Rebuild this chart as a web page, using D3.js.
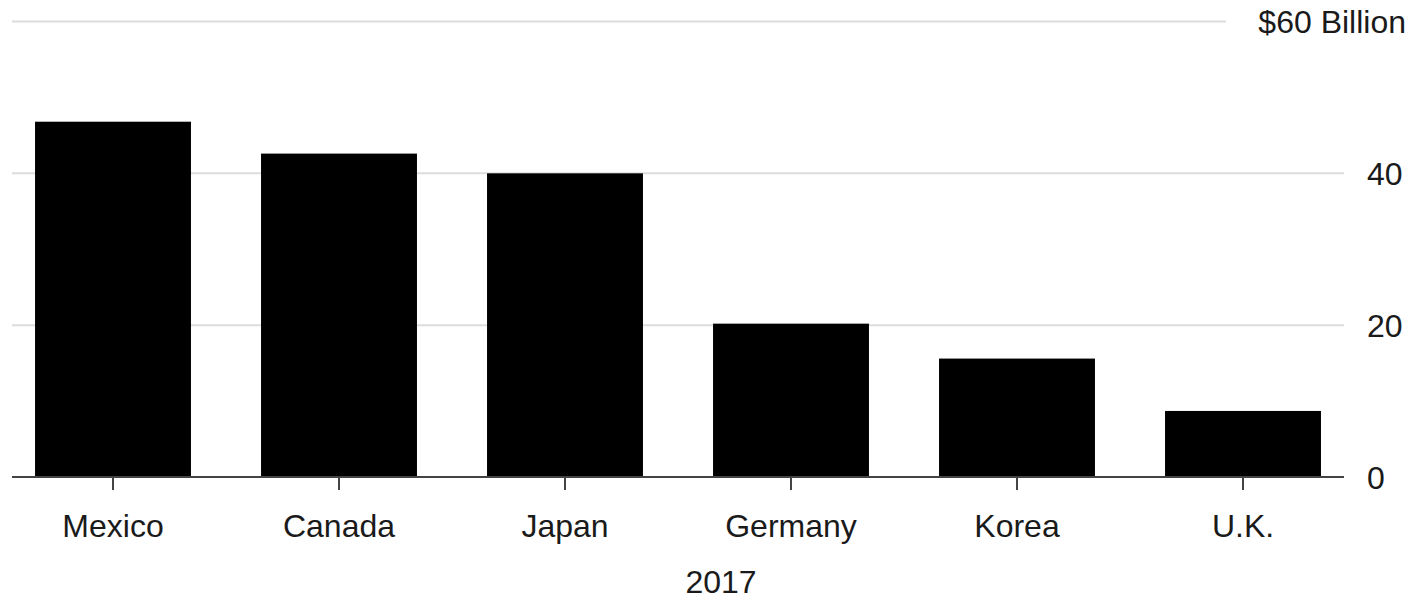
<!DOCTYPE html>
<html>
<head>
<meta charset="utf-8">
<script src="https://cdn.jsdelivr.net/npm/d3@7"></script>
<style>
  html, body { margin: 0; padding: 0; background: #fff; }
  svg text { font-family: "Liberation Sans", Arial, Helvetica, sans-serif; fill: #1a1a1a; }
</style>
</head>
<body>
<svg id="chart" width="1416" height="601"></svg>
<script>
// Trade deficit by country, 2017 (billions of dollars)
const categories = ["Mexico", "Canada", "Japan", "Germany", "Korea", "U.K."];
const values = [46.8, 42.6, 40.0, 20.2, 15.6, 8.7];
const yTicks = [0, 20, 40, 60];
const yearLabel = "2017";
const unitLabel = "$60 Billion";

const svg = d3.select("#chart");

const plotLeft = 12, plotRight = 1344;
const yTop = 21.5, yBase = 477;

const x = d3.scaleBand()
  .domain(categories)
  .range([0, 1356])
  .paddingInner(0.31)
  .paddingOuter(0.155);

const y = d3.scaleLinear()
  .domain([0, 60])
  .range([yBase, yTop]);

// horizontal gridlines (the top one stops short of the unit label)
svg.append("g")
  .selectAll("line")
  .data(yTicks.filter(d => d > 0))
  .join("line")
  .attr("x1", plotLeft)
  .attr("x2", d => d === 60 ? 1226 : plotRight)
  .attr("y1", d => y(d))
  .attr("y2", d => y(d))
  .attr("stroke", "#dcdcdc")
  .attr("stroke-width", 2);

// bars
svg.append("g")
  .selectAll("rect")
  .data(categories.map((c, i) => ({ c, v: values[i] })))
  .join("rect")
  .attr("x", d => x(d.c))
  .attr("width", x.bandwidth())
  .attr("y", d => y(d.v))
  .attr("height", d => yBase - y(d.v))
  .attr("fill", "#000");

// baseline
svg.append("line")
  .attr("x1", plotLeft).attr("x2", plotRight)
  .attr("y1", yBase).attr("y2", yBase)
  .attr("stroke", "#444").attr("stroke-width", 2);

// x axis ticks and labels
const xAxis = d3.axisBottom(x).tickSize(13).tickPadding(24).tickSizeOuter(0);
const gx = svg.append("g")
  .attr("transform", `translate(0,${yBase})`)
  .call(xAxis);
gx.select(".domain").remove();
gx.selectAll(".tick line").attr("stroke", "#444").attr("stroke-width", 2);
gx.selectAll(".tick text")
  .attr("font-size", 32)
  .attr("font-family", null)
  .attr("fill", "#1a1a1a");

// y axis labels on the right
const yAxis = d3.axisRight(y)
  .tickValues(yTicks.filter(d => d < 60))
  .tickSize(0)
  .tickPadding(0)
  .tickFormat(d3.format("d"));
const gy = svg.append("g")
  .attr("transform", "translate(1367,0)")
  .call(yAxis);
gy.select(".domain").remove();
gy.selectAll(".tick text")
  .attr("font-size", 32)
  .attr("font-family", null)
  .attr("fill", "#1a1a1a")
  .attr("text-anchor", "start")
  .attr("dy", "0.35em");

// unit label at the top tick
svg.append("text")
  .attr("x", 1406)
  .attr("y", y(60))
  .attr("dy", "0.35em")
  .attr("text-anchor", "end")
  .attr("font-size", 32)
  .text(unitLabel);

// year label under the axis
svg.append("text")
  .attr("x", 721)
  .attr("y", 593)
  .attr("text-anchor", "middle")
  .attr("font-size", 32)
  .text(yearLabel);
</script>
</body>
</html>
